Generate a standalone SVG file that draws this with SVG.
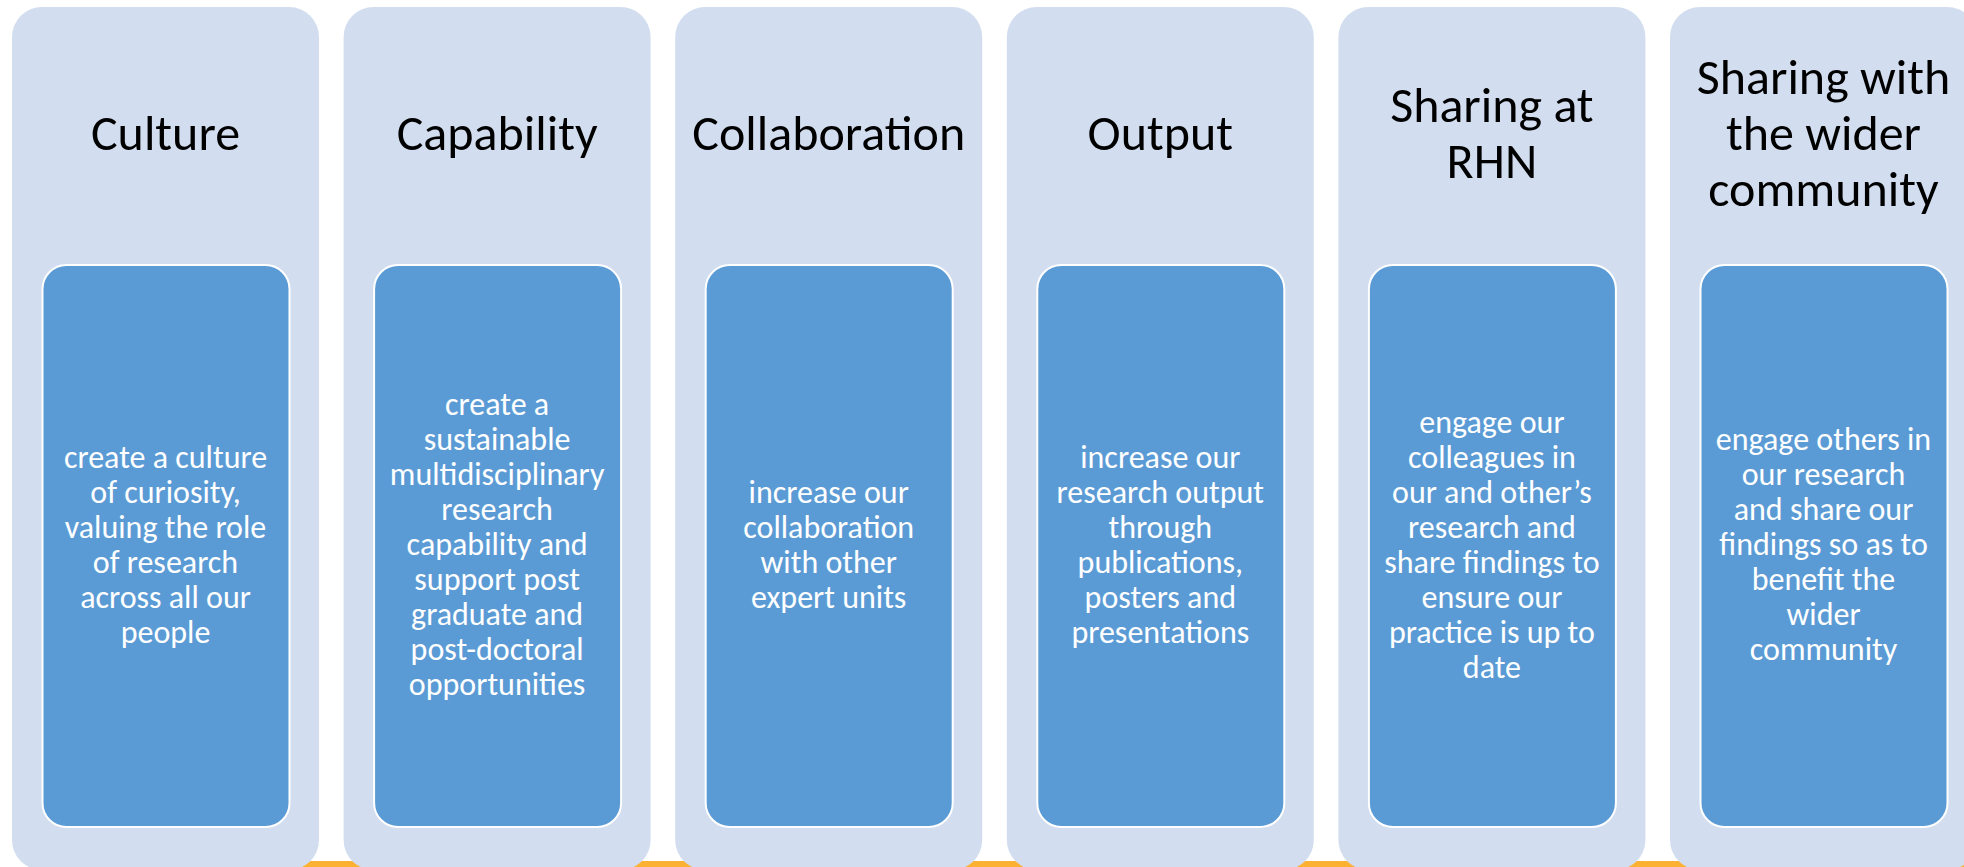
<svg xmlns="http://www.w3.org/2000/svg" width="1964" height="867" viewBox="0 0 1964 867">
<style>
.col{fill:#D2DEEF;}
.box{fill:#5B9BD5;stroke:#FFFFFF;stroke-width:2;}
.title{font-family:Calibri,Carlito,Lato,"Liberation Sans",sans-serif;font-size:50px;fill:#000000;text-anchor:middle;}
.body{font-family:Calibri,Carlito,Lato,"Liberation Sans",sans-serif;font-size:32px;fill:#FFFFFF;text-anchor:middle;}
</style>
<rect width="1964" height="867" fill="#FFFFFF"/>
<rect x="30" y="861" width="1934" height="6" fill="#FDB133"/>
<g id="node-culture">
<rect class="col" x="12" y="7" width="307" height="863" rx="30" ry="30"/>
<text class="title" x="165.5" y="150">Culture</text>
<rect class="box" x="42.5" y="265" width="247" height="562" rx="24" ry="24"/>
<text class="body" x="165.5"><tspan x="165.5" y="467.5">create a culture</tspan><tspan x="165.5" y="502.5">of curiosity,</tspan><tspan x="165.5" y="537.5">valuing the role</tspan><tspan x="165.5" y="572.5">of research</tspan><tspan x="165.5" y="607.5">across all our</tspan><tspan x="165.5" y="642.5">people</tspan></text>
</g>
<g id="node-capability">
<rect class="col" x="343.6" y="7" width="307" height="863" rx="30" ry="30"/>
<text class="title" x="497.1" y="150">Capability</text>
<rect class="box" x="374.1" y="265" width="247" height="562" rx="24" ry="24"/>
<text class="body" x="497.1"><tspan x="497.1" y="415">create a</tspan><tspan x="497.1" y="450">sustainable</tspan><tspan x="497.1" y="485">multidisciplinary</tspan><tspan x="497.1" y="520">research</tspan><tspan x="497.1" y="555">capability and</tspan><tspan x="497.1" y="590">support post</tspan><tspan x="497.1" y="625">graduate and</tspan><tspan x="497.1" y="660">post-doctoral</tspan><tspan x="497.1" y="695">opportunities</tspan></text>
</g>
<g id="node-collaboration">
<rect class="col" x="675.2" y="7" width="307" height="863" rx="30" ry="30"/>
<text class="title" x="828.7" y="150">Collaboration</text>
<rect class="box" x="705.7" y="265" width="247" height="562" rx="24" ry="24"/>
<text class="body" x="828.7"><tspan x="828.7" y="502.5">increase our</tspan><tspan x="828.7" y="537.5">collaboration</tspan><tspan x="828.7" y="572.5">with other</tspan><tspan x="828.7" y="607.5">expert units</tspan></text>
</g>
<g id="node-output">
<rect class="col" x="1006.8" y="7" width="307" height="863" rx="30" ry="30"/>
<text class="title" x="1160.3" y="150">Output</text>
<rect class="box" x="1037.3" y="265" width="247" height="562" rx="24" ry="24"/>
<text class="body" x="1160.3"><tspan x="1160.3" y="467.5">increase our</tspan><tspan x="1160.3" y="502.5">research output</tspan><tspan x="1160.3" y="537.5">through</tspan><tspan x="1160.3" y="572.5">publications,</tspan><tspan x="1160.3" y="607.5">posters and</tspan><tspan x="1160.3" y="642.5">presentations</tspan></text>
</g>
<g id="node-sharing-rhn">
<rect class="col" x="1338.4" y="7" width="307" height="863" rx="30" ry="30"/>
<text class="title" x="1491.9"><tspan x="1491.9" y="122">Sharing at</tspan><tspan x="1491.9" y="178">RHN</tspan></text>
<rect class="box" x="1368.9" y="265" width="247" height="562" rx="24" ry="24"/>
<text class="body" x="1491.9"><tspan x="1491.9" y="432.5">engage our</tspan><tspan x="1491.9" y="467.5">colleagues in</tspan><tspan x="1491.9" y="502.5">our and other’s</tspan><tspan x="1491.9" y="537.5">research and</tspan><tspan x="1491.9" y="572.5">share findings to</tspan><tspan x="1491.9" y="607.5">ensure our</tspan><tspan x="1491.9" y="642.5">practice is up to</tspan><tspan x="1491.9" y="677.5">date</tspan></text>
</g>
<g id="node-sharing-community">
<rect class="col" x="1670" y="7" width="307" height="863" rx="30" ry="30"/>
<text class="title" x="1823.5"><tspan x="1823.5" y="94">Sharing with</tspan><tspan x="1823.5" y="150">the wider</tspan><tspan x="1823.5" y="206">community</tspan></text>
<rect class="box" x="1700.5" y="265" width="247" height="562" rx="24" ry="24"/>
<text class="body" x="1823.5"><tspan x="1823.5" y="450">engage others in</tspan><tspan x="1823.5" y="485">our research</tspan><tspan x="1823.5" y="520">and share our</tspan><tspan x="1823.5" y="555">findings so as to</tspan><tspan x="1823.5" y="590">benefit the</tspan><tspan x="1823.5" y="625">wider</tspan><tspan x="1823.5" y="660">community</tspan></text>
</g>
<g id="connectors"></g>
</svg>
